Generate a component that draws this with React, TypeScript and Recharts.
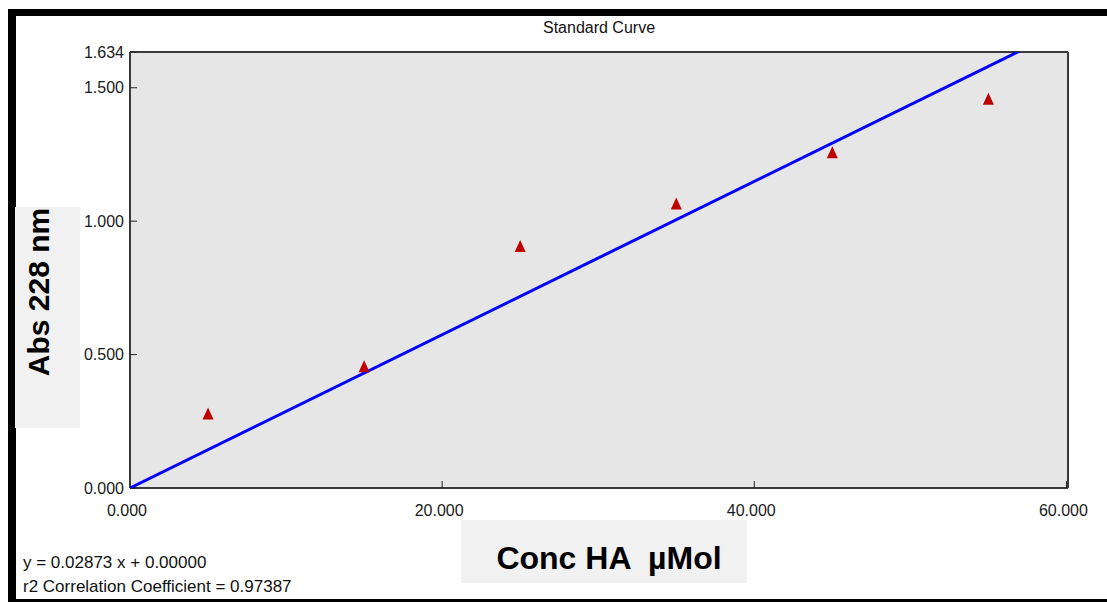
import {
  ComposedChart,
  Scatter,
  XAxis,
  YAxis,
  CartesianGrid,
} from "recharts"

// standards: concentration (µMol) vs absorbance at 228 nm
const CONC = [5, 15, 25, 35, 45, 55]
const ABS = [0.279, 0.456, 0.907, 1.066, 1.258, 1.459]

const X_TICKS = [0, 20, 40, 60]
const Y_TICKS = [0, 0.5, 1.0, 1.5, 1.634]

// fitted line, from the equation printed under the chart
const FIT_SLOPE = 0.02873
const FIT_INTERCEPT = 0
const FIT_X = [0, 60]

const FONT = "'Liberation Sans', Arial, sans-serif"
const TICK_COLOR = "#1a1a1a"
const BORDER = "#3a3a3a"

const points = CONC.map((x, i) => ({ x, y: ABS[i] }))
const fitLine = FIT_X.map(x => ({ x, y: FIT_SLOPE * x + FIT_INTERCEPT }))

function Triangle(props: any) {
  const { cx, cy } = props
  if (cx == null || cy == null) return <g />
  return (
    <polygon
      points={`${cx},${cy - 6} ${cx + 5.5},${cy + 6} ${cx - 5.5},${cy + 6}`}
      fill="#c00000"
    />
  )
}

const fmt = (v: number) => v.toFixed(3)

const noteStyle: React.CSSProperties = {
  position: "absolute",
  left: 23,
  transform: "translateY(-50%)",
  fontSize: 17,
  lineHeight: "17px",
  color: "#111",
  whiteSpace: "nowrap",
}

export default function App() {
  return (
    <div
      style={{
        position: "absolute",
        left: 0,
        top: 0,
        width: 1107,
        height: 602,
        overflow: "hidden",
        background: "#fff",
        fontFamily: FONT,
      }}
    >
      {/* black frame (no right side) */}
      <div
        style={{
          position: "absolute",
          left: 8,
          top: 9,
          width: 1120,
          height: 593,
          boxSizing: "border-box",
          borderTop: "7px solid #000",
          borderLeft: "8px solid #000",
          borderBottom: "3px solid #000",
        }}
      />

      <div
        style={{
          position: "absolute",
          left: 599,
          top: 28,
          transform: "translate(-50%, -50%)",
          fontSize: 16,
          lineHeight: 1,
          color: "#111",
          whiteSpace: "nowrap",
        }}
      >
        Standard Curve
      </div>

      <div style={{ position: "absolute", left: 0, top: 0 }}>
        <ComposedChart
          width={1107}
          height={602}
          margin={{ top: 51, right: 29, bottom: 54, left: 70 }}
        >
          <CartesianGrid horizontal={false} vertical={false} fill="#e6e6e6" />
          <XAxis
            xAxisId="top"
            orientation="top"
            type="number"
            dataKey="x"
            domain={[0, 60.1]}
            height={1}
            tick={false}
            tickLine={false}
            axisLine={{ stroke: BORDER, strokeWidth: 2 }}
          />
          <XAxis
            type="number"
            dataKey="x"
            domain={[0, 60.1]}
            ticks={X_TICKS}
            tickFormatter={fmt}
            height={60}
            tickSize={-7}
            tickMargin={24}
            tick={{ fill: TICK_COLOR, fontSize: 16, fontFamily: FONT, dx: -3 }}
            tickLine={{ stroke: "#222" }}
            axisLine={{ stroke: BORDER, strokeWidth: 2 }}
          />
          <YAxis
            type="number"
            dataKey="y"
            domain={[0, 1.634]}
            allowDataOverflow
            ticks={Y_TICKS}
            tickFormatter={fmt}
            width={60}
            tickSize={-7}
            tickMargin={13}
            tick={{ fill: TICK_COLOR, fontSize: 16, fontFamily: FONT }}
            tickLine={{ stroke: "#222" }}
            axisLine={{ stroke: BORDER, strokeWidth: 2 }}
          />
          <YAxis
            yAxisId="right"
            orientation="right"
            type="number"
            domain={[0, 1.634]}
            ticks={Y_TICKS}
            width={10}
            tickSize={-7}
            tick={false}
            tickLine={{ stroke: "#222" }}
            axisLine={{ stroke: BORDER, strokeWidth: 2 }}
          />
          <Scatter
            data={fitLine}
            line={{ stroke: "#0000ff", strokeWidth: 3 }}
            shape={() => <g />}
            isAnimationActive={false}
          />
          <Scatter data={points} shape={<Triangle />} isAnimationActive={false} />
        </ComposedChart>
      </div>

      {/* axis titles on light grey boxes */}
      <div
        style={{
          position: "absolute",
          left: 15,
          top: 207,
          width: 65,
          height: 221,
          background: "#f1f1f1",
        }}
      />
      <div
        style={{
          position: "absolute",
          left: 39,
          top: 292,
          transform: "translate(-50%, -50%) rotate(-90deg)",
          fontSize: 30,
          fontWeight: 700,
          lineHeight: "30px",
          color: "#000",
          whiteSpace: "nowrap",
        }}
      >
        Abs 228 nm
      </div>

      <div
        style={{
          position: "absolute",
          left: 461,
          top: 520,
          width: 286,
          height: 63,
          background: "#f1f1f1",
        }}
      />
      <div
        style={{
          position: "absolute",
          left: 609,
          top: 558,
          transform: "translate(-50%, -50%)",
          fontSize: 32,
          fontWeight: 700,
          lineHeight: "32px",
          color: "#000",
          whiteSpace: "pre",
        }}
      >
        {"Conc HA  µMol"}
      </div>

      <div style={{ ...noteStyle, top: 562 }}>y = 0.02873 x + 0.00000</div>
      <div style={{ ...noteStyle, top: 586 }}>r2 Correlation Coefficient = 0.97387</div>
    </div>
  )
}
